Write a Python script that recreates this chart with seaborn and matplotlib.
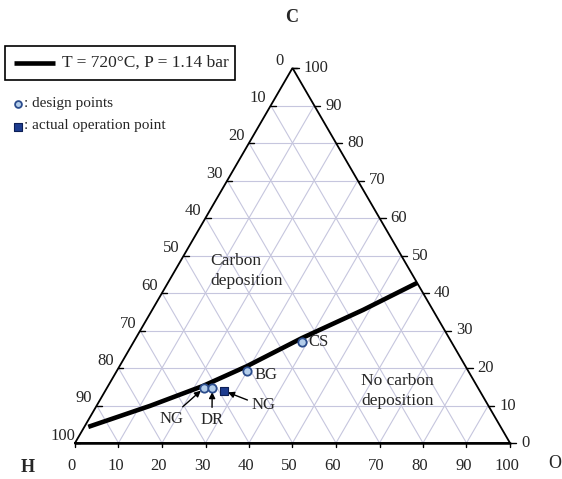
import numpy as np
import pandas as pd
import matplotlib
matplotlib.use("Agg")
import matplotlib.pyplot as plt
import seaborn as sns
from matplotlib.patches import Rectangle

# ---------------- data (ternary percentages) ----------------
boundary_O = [0.9, 12.3, 21.8, 29.3, 38.2, 48.5, 57.3]
boundary_C = [4.3, 9.9, 15.2, 20.5, 28.0, 35.5, 42.7]

design_names = ["NG", "DR", "BG", "CS"]
design_O = [22.3, 24.2, 29.9, 38.7]
design_C = [14.7, 14.7, 19.2, 26.9]

actual_name = ["NG"]
actual_O = [27.3]
actual_C = [13.9]

tick_values = [0, 10, 20, 30, 40, 50, 60, 70, 80, 90, 100]
vertex_labels = ["C", "H", "O"]
legend_line_label = "T = 720°C, P = 1.14 bar"
legend_design_label = ": design points"
legend_actual_label = ": actual operation point"
region_labels = ["Carbon\ndeposition", "No carbon\ndeposition"]

# ---------------- helpers ----------------
def tern(O, C):
    O = np.asarray(O, float); C = np.asarray(C, float)
    return O + C / 2.0, C

SX, SY, X0, Y0 = 4.35, 3.75, 75.0, 443.0
def px(xp, yp):
    return (xp - X0) / SX, (Y0 - yp) / SY

sns.set_style("white")
plt.rcParams["font.family"] = ["Liberation Serif", "DejaVu Serif"]

fig = plt.figure(figsize=(5.62, 4.79), dpi=100)
ax = fig.add_axes([0, 0, 1, 1])
ax.set_xlim(-X0 / SX, (562 - X0) / SX)
ax.set_ylim((Y0 - 479) / SY, Y0 / SY)
ax.axis("off")

grid_col = "#c6c6de"
for k in tick_values[1:-1]:
    x, y = tern([0, 100 - k], [k, k]); ax.plot(x, y, color=grid_col, lw=0.8, zorder=1)
    x, y = tern([k, k], [0, 100 - k]); ax.plot(x, y, color=grid_col, lw=0.8, zorder=1)
    x, y = tern([100 - k, 0], [0, 100 - k]); ax.plot(x, y, color=grid_col, lw=0.8, zorder=1)

# triangle
tx, ty = tern([0, 100, 0, 0], [0, 0, 100, 0])
ax.plot(tx, ty, color="black", lw=1.3, zorder=3, solid_joinstyle="miter")
bx0, by0 = tern([0, 100], [0, 0])
ax.plot(bx0, by0, color="black", lw=1.8, zorder=3)

fs = 12
for h in tick_values:
    c = 100 - h
    x, y = tern(0, c)
    ax.plot([x, x + 5 / SX], [y, y], color="black", lw=1.0, zorder=3)
    ax.text(x - 12.5 / SX, y + 7 / SY, str(h), ha="center", va="center", fontsize=fs)
for c in tick_values:
    x, y = tern(100 - c, c)
    ax.plot([x, x + 6 / SX], [y, y], color="black", lw=1.0, zorder=3)
    ax.text(x + 11 / SX, y, str(c), ha="left", va="center", fontsize=fs)
for o in tick_values:
    x, y = tern(o, 0)
    ax.plot([x, x], [y, y - 4 / SY], color="black", lw=1.0, zorder=3)
    ax.text(x - 3 / SX, y - 23 / SY, str(o), ha="center", va="center", fontsize=fs)

ax.text(*px(292, 18), vertex_labels[0], ha="center", va="center", fontsize=13, fontweight="bold")
ax.text(*px(28, 467), vertex_labels[1], ha="center", va="center", fontsize=13, fontweight="bold")
ax.text(*px(555, 463), vertex_labels[2], ha="center", va="center", fontsize=13)

# boundary line
bx, by = tern(boundary_O, boundary_C)
df_line = pd.DataFrame({"x": bx, "y": by})
sns.lineplot(data=df_line, x="x", y="y", sort=False, estimator=None, color="black",
             lw=3.3, ax=ax, zorder=4, solid_capstyle="butt")

# design points
dx, dy = tern(design_O, design_C)
df_d = pd.DataFrame({"x": dx, "y": dy, "name": design_names})
sns.scatterplot(data=df_d, x="x", y="y", marker="o", s=36, color="#b3cdea",
                edgecolor="#2b4c8c", linewidth=1.3, ax=ax, zorder=5)
ax_, ay_ = tern(actual_O, actual_C)
df_a = pd.DataFrame({"x": ax_, "y": ay_})
sns.scatterplot(data=df_a, x="x", y="y", marker="s", s=38, color="#1d3c8f",
                edgecolor="#0d1f55", linewidth=0.8, ax=ax, zorder=5)

ax.text(dx[3] + 7 / SX, dy[3], design_names[3], ha="left", va="center", fontsize=fs)
ax.text(dx[2] + 8 / SX, dy[2] - 4 / SY, design_names[2], ha="left", va="center", fontsize=fs)
arrow = dict(arrowstyle="-|>", color="black", lw=1.0, mutation_scale=9, shrinkA=1, shrinkB=3)
ax.annotate(design_names[0], xy=(dx[0], dy[0]), xytext=px(172, 419), ha="center", va="center",
            fontsize=fs, arrowprops=dict(arrow, relpos=(0.75, 1.0)))
ax.annotate(design_names[1], xy=(dx[1], dy[1]), xytext=px(212, 420), ha="center", va="center",
            fontsize=fs, arrowprops=dict(arrow, relpos=(0.5, 1.0)))
ax.annotate(actual_name[0], xy=(ax_[0], ay_[0]), xytext=px(264, 405), ha="center", va="center",
            fontsize=fs, arrowprops=dict(arrow, relpos=(0.0, 0.7)))

ax.text(*px(210, 271), region_labels[0], ha="left", va="center", fontsize=12.5, linespacing=1.3)
ax.text(*px(361, 391), region_labels[1], ha="left", va="center", fontsize=12.5, linespacing=1.3)

# legend
x0, y0 = px(5, 80); x1, y1 = px(235, 46)
ax.add_patch(Rectangle((x0, y0), x1 - x0, y1 - y0, fill=False, ec="black", lw=1.2, zorder=6))
lx0, ly = px(14, 63); lx1, _ = px(55, 63)
ax.plot([lx0, lx1], [ly, ly], color="black", lw=3.3, solid_capstyle="butt", zorder=6)
ax.text(*px(62, 63), legend_line_label, ha="left", va="center", fontsize=12.5)
ax.scatter(*px(18, 104), marker="o", s=24, color="#b3cdea", edgecolor="#2b4c8c", linewidth=1.3, zorder=6)
ax.text(*px(24, 103), legend_design_label, ha="left", va="center", fontsize=11)
ax.scatter(*px(18, 127), marker="s", s=28, color="#1d3c8f", edgecolor="#0d1f55", linewidth=0.8, zorder=6)
ax.text(*px(24, 126), legend_actual_label, ha="left", va="center", fontsize=11)

fig.savefig("out.png", dpi=100)
